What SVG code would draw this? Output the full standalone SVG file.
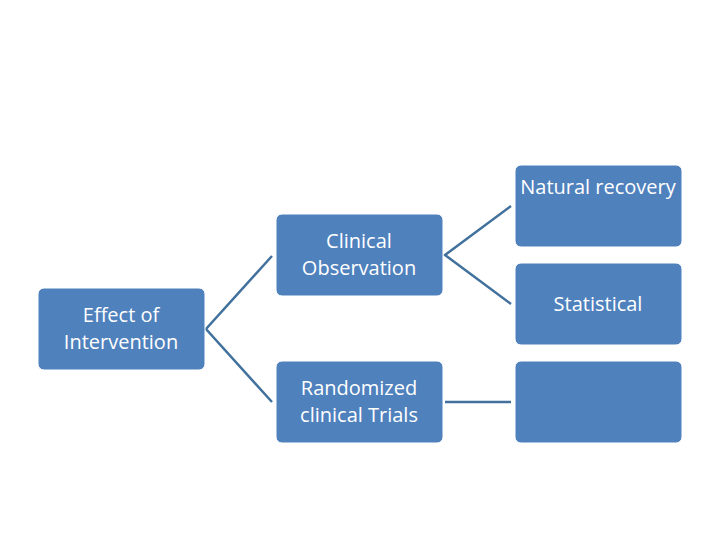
<svg xmlns="http://www.w3.org/2000/svg" width="720" height="540" viewBox="0 0 720 540">
<style>
.box{fill:#4F81BD;stroke:#ffffff;stroke-width:1}
.t{fill:#ffffff;font-family:"Open Sans","Liberation Sans",sans-serif;font-size:20px;text-anchor:middle}
.c{stroke:#41719C;stroke-width:2.5;fill:none}
</style>
<rect width="720" height="540" fill="#ffffff"/>
<g id="connectors">
<polyline class="c" points="272,256 206,329 272,402"/>
<polyline class="c" points="511,206 445,255 511,304"/>
<line class="c" x1="445" y1="402" x2="511" y2="402"/>
</g>
<g id="effect"><rect class="box" x="38" y="288" width="167" height="82" rx="6"/><text class="t" x="121" y="322">Effect of</text><text class="t" x="121" y="349">Intervention</text></g>
<g id="clinical"><rect class="box" x="276" y="214" width="167" height="82" rx="6"/><text class="t" x="359" y="248">Clinical</text><text class="t" x="359" y="275">Observation</text></g>
<g id="randomized"><rect class="box" x="276" y="361" width="167" height="82" rx="6"/><text class="t" x="359" y="395">Randomized</text><text class="t" x="359" y="422">clinical Trials</text></g>
<g id="natural"><rect class="box" x="515" y="165" width="167" height="82" rx="6"/><text class="t" x="598" y="194">Natural recovery</text></g>
<g id="statistical"><rect class="box" x="515" y="263" width="167" height="82" rx="6"/><text class="t" x="598" y="311">Statistical</text></g>
<g id="empty"><rect class="box" x="515" y="361" width="167" height="82" rx="6"/></g>
</svg>
